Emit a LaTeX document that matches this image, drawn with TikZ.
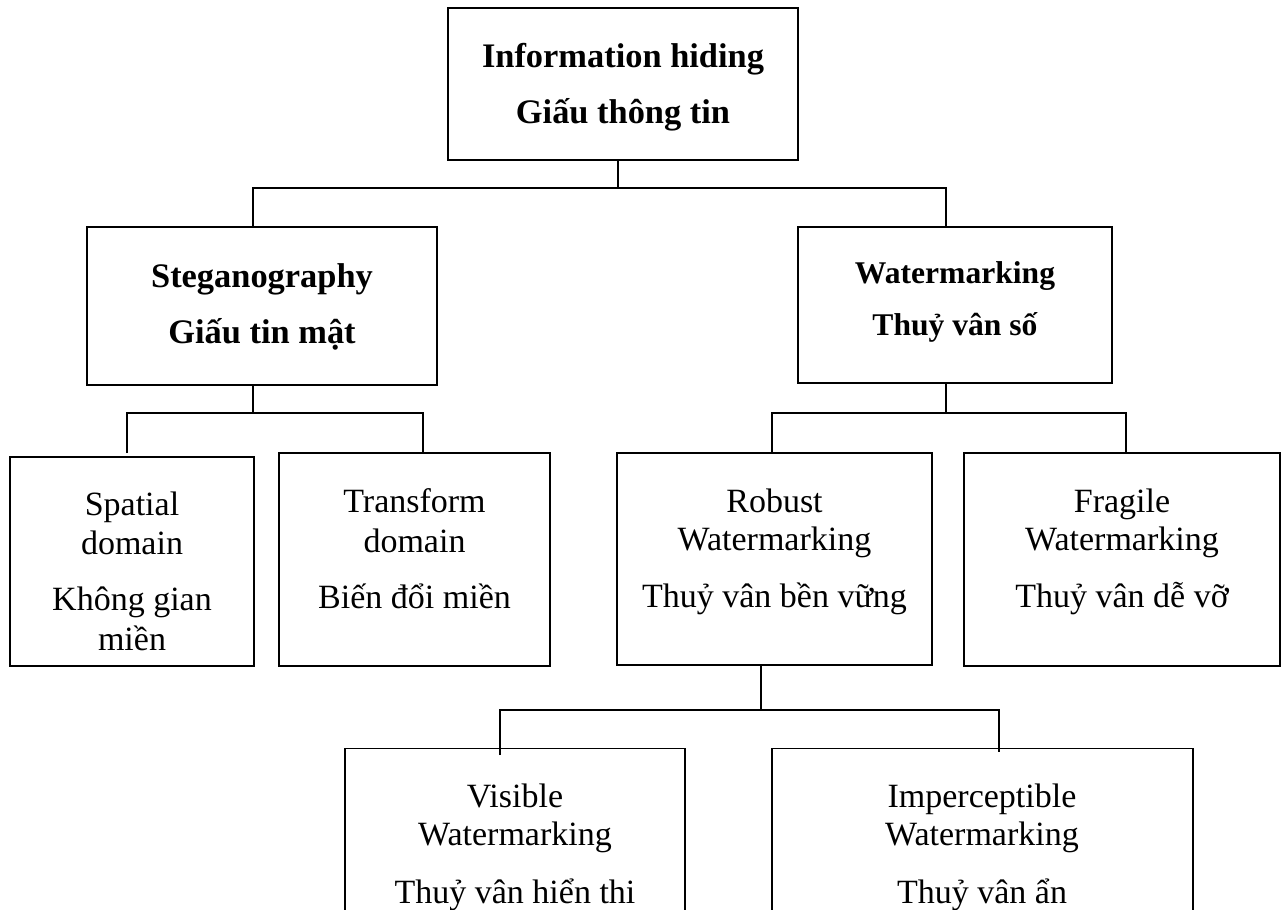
\documentclass[tikz,border=0pt]{standalone}
\usepackage{fontspec}
\setmainfont{Liberation Serif}
\begin{document}
\begin{tikzpicture}[x=1pt,y=-1pt,
  box/.style={draw, line width=1.8pt, rectangle, inner sep=0pt},
  link/.style={line width=1.6pt},
  txt/.style={anchor=base, inner sep=0pt, font=\fontsize{34}{40}\selectfont},
  hdr/.style={anchor=base, inner sep=0pt, font=\fontsize{34.4}{40}\selectfont\bfseries},
  hdrs/.style={anchor=base, inner sep=0pt, font=\fontsize{31.6}{38}\selectfont\bfseries}]

% page frame
\useasboundingbox (0,0) rectangle (1285,910);
\fill[white] (0,0) rectangle (1285,910);
\clip (0,0) rectangle (1285,910);

% boxes
\node[box, minimum width=350pt, minimum height=152pt] (top) at (623,84) {};
\node[box, minimum width=350pt, minimum height=158pt] (stego) at (262,306) {};
\node[box, minimum width=314pt, minimum height=156pt] (water) at (955,305) {};
\node[box, minimum width=244pt, minimum height=209pt] (spatial) at (132,561.5) {};
\node[box, minimum width=271pt, minimum height=213pt] (transform) at (414.5,559.5) {};
\node[box, minimum width=315pt, minimum height=212pt] (robust) at (774.5,559) {};
\node[box, minimum width=316pt, minimum height=213pt] (fragile) at (1122,559.5) {};
\node[box, minimum width=340pt, minimum height=212pt] (visible) at (515,854.5) {};
\node[box, minimum width=421pt, minimum height=212pt] (imper) at (982.5,854.5) {};

% labels
\node[hdr] (topA) at (623,67) {Information hiding};
\node[hdr] (topB) at (623,123) {Giấu thông tin};
\node[hdr] (stegoA) at (262,287) {Steganography};
\node[hdr] (stegoB) at (262,343) {Giấu tin mật};
\node[hdrs] (waterA) at (955,283) {Watermarking};
\node[hdrs] (waterB) at (955,335) {Thuỷ vân số};

\node[txt] (spA) at (132,515) {Spatial};
\node[txt] (spB) at (132,554) {domain};
\node[txt] (spC) at (132,610) {Không gian};
\node[txt] (spD) at (132,650) {miền};

\node[txt] (trA) at (414.5,512) {Transform};
\node[txt] (trB) at (414.5,552) {domain};
\node[txt] (trC) at (414.5,608) {Biến đổi miền};

\node[txt] (roA) at (774.5,512) {Robust};
\node[txt] (roB) at (774.5,550) {Watermarking};
\node[txt] (roC) at (774.5,607) {Thuỷ vân bền vững};

\node[txt] (frA) at (1122,512) {Fragile};
\node[txt] (frB) at (1122,550) {Watermarking};
\node[txt] (frC) at (1122,607) {Thuỷ vân dễ vỡ};

\node[txt] (viA) at (515,807) {Visible};
\node[txt] (viB) at (515,845) {Watermarking};
\node[txt] (viC) at (515,903) {Thuỷ vân hiển thi};

\node[txt] (imA) at (982,807) {Imperceptible};
\node[txt] (imB) at (982,845) {Watermarking};
\node[txt] (imC) at (982,903) {Thuỷ vân ẩn};

% bus junctions
\coordinate (h1L) at (253,188);
\coordinate (h1M) at (618,188);
\coordinate (h1R) at (946,188);
\coordinate (h2L) at (127,413);
\coordinate (h2M) at (253,413);
\coordinate (h2R) at (423,413);
\coordinate (h3L) at (772,413);
\coordinate (h3M) at (946,413);
\coordinate (h3R) at (1126,413);
\coordinate (h4L) at (500,710);
\coordinate (h4M) at (761,710);
\coordinate (h4R) at (999,710);
\coordinate (e1) at (127,453);
\coordinate (v1) at (500,755);
\coordinate (i1) at (999,752);

% connectors
\draw[link] (top.south -| h1M) -- (h1M);
\draw[link] (stego.north -| h1L) |- (h1R) -- (water.north -| h1R);

\draw[link] (stego.south -| h2M) -- (h2M);
\draw[link] (e1) |- (h2R) -- (transform.north -| h2R);

\draw[link] (water.south -| h3M) -- (h3M);
\draw[link] (robust.north -| h3L) |- (h3R) -- (fragile.north -| h3R);

\draw[link] (robust.south -| h4M) -- (h4M);
\draw[link] (v1) |- (h4R) -- (i1);
\end{tikzpicture}
\end{document}
